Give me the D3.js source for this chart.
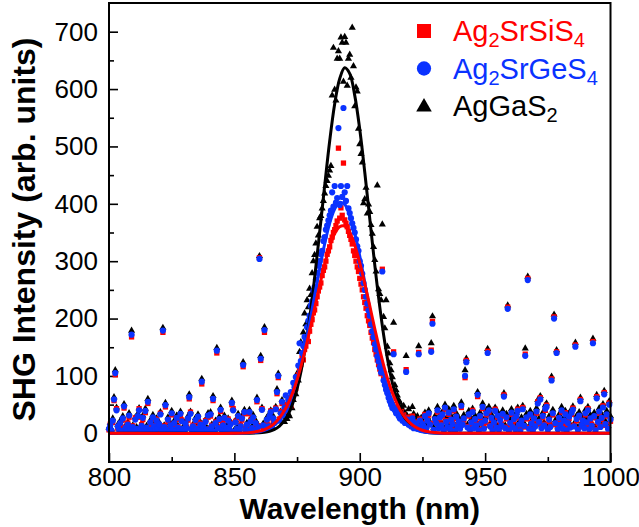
<!DOCTYPE html>
<html>
<head>
<meta charset="utf-8">
<script src="https://cdn.jsdelivr.net/npm/d3@7"></script>
<style>
  body { margin: 0; background: #fff; }
  text { font-family: "Liberation Sans", Arial, Helvetica, sans-serif; }
</style>
</head>
<body>
<script>
// Data (wavelength in nm, SHG intensity in arb. units)

var wavelength = [
  800, 800.5, 801, 801.5, 802, 802.5, 803, 803.5, 804, 804.5, 805, 805.5, 806, 806.5, 807, 807.5, 808, 808.5, 809, 809.5,
  810, 810.5, 811, 811.5, 812, 812.5, 813, 813.5, 814, 814.5, 815, 815.5, 816, 816.5, 817, 817.5, 818, 818.5, 819, 819.5,
  820, 820.5, 821, 821.5, 822, 822.5, 823, 823.5, 824, 824.5, 825, 825.5, 826, 826.5, 827, 827.5, 828, 828.5, 829, 829.5,
  830, 830.5, 831, 831.5, 832, 832.5, 833, 833.5, 834, 834.5, 835, 835.5, 836, 836.5, 837, 837.5, 838, 838.5, 839, 839.5,
  840, 840.5, 841, 841.5, 842, 842.5, 843, 843.5, 844, 844.5, 845, 845.5, 846, 846.5, 847, 847.5, 848, 848.5, 849, 849.5,
  850, 850.5, 851, 851.5, 852, 852.5, 853, 853.5, 854, 854.5, 855, 855.5, 856, 856.5, 857, 857.5, 858, 858.5, 859, 859.5,
  860, 860.5, 861, 861.5, 862, 862.5, 863, 863.5, 864, 864.5, 865, 865.5, 866, 866.5, 867, 867.5, 868, 868.5, 869, 869.5,
  870, 870.5, 871, 871.5, 872, 872.5, 873, 873.5, 874, 874.5, 875, 875.5, 876, 876.5, 877, 877.5, 878, 878.5, 879, 879.5,
  880, 880.5, 881, 881.5, 882, 882.5, 883, 883.5, 884, 884.5, 885, 885.5, 886, 886.5, 887, 887.5, 888, 888.5, 889, 889.5,
  890, 890.5, 891, 891.5, 892, 892.5, 893, 893.5, 894, 894.5, 895, 895.5, 896, 896.5, 897, 897.5, 898, 898.5, 899, 899.5,
  900, 900.5, 901, 901.5, 902, 902.5, 903, 903.5, 904, 904.5, 905, 905.5, 906, 906.5, 907, 907.5, 908, 908.5, 909, 909.5,
  910, 910.5, 911, 911.5, 912, 912.5, 913, 913.5, 914, 914.5, 915, 915.5, 916, 916.5, 917, 917.5, 918, 918.5, 919, 919.5,
  920, 920.5, 921, 921.5, 922, 922.5, 923, 923.5, 924, 924.5, 925, 925.5, 926, 926.5, 927, 927.5, 928, 928.5, 929, 929.5,
  930, 930.5, 931, 931.5, 932, 932.5, 933, 933.5, 934, 934.5, 935, 935.5, 936, 936.5, 937, 937.5, 938, 938.5, 939, 939.5,
  940, 940.5, 941, 941.5, 942, 942.5, 943, 943.5, 944, 944.5, 945, 945.5, 946, 946.5, 947, 947.5, 948, 948.5, 949, 949.5,
  950, 950.5, 951, 951.5, 952, 952.5, 953, 953.5, 954, 954.5, 955, 955.5, 956, 956.5, 957, 957.5, 958, 958.5, 959, 959.5,
  960, 960.5, 961, 961.5, 962, 962.5, 963, 963.5, 964, 964.5, 965, 965.5, 966, 966.5, 967, 967.5, 968, 968.5, 969, 969.5,
  970, 970.5, 971, 971.5, 972, 972.5, 973, 973.5, 974, 974.5, 975, 975.5, 976, 976.5, 977, 977.5, 978, 978.5, 979, 979.5,
  980, 980.5, 981, 981.5, 982, 982.5, 983, 983.5, 984, 984.5, 985, 985.5, 986, 986.5, 987, 987.5, 988, 988.5, 989, 989.5,
  990, 990.5, 991, 991.5, 992, 992.5, 993, 993.5, 994, 994.5, 995, 995.5, 996, 996.5, 997, 997.5, 998, 998.5, 999, 999.5,
  1000
];

// Ag2SrSiS4 (red squares)
var ag2SrSiS4 = [
  6, 16, 3, 19, 57, 102, 43, 9, 8, 15,
  6, 23, 44, 11, 2, 18, 28, 9, 168, 13,
  3, 27, 6, 28, 43, 4, 15, 24, 6, 36,
  8, 52, 5, 17, 9, 25, 14, 3, 25, 7,
  13, 35, 2, 176, 13, 46, 8, 21, 5, 12,
  32, 9, 16, 6, 24, 12, 3, 31, 23, 6,
  5, 14, 11, 23, 60, 37, 4, 14, 2, 20,
  10, 26, 3, 17, 86, 13, 2, 22, 5, 28,
  8, 30, 14, 57, 2, 20, 140, 11, 22, 38,
  3, 16, 24, 6, 8, 25, 5, 18, 50, 43,
  2, 21, 6, 27, 7, 14, 23, 116, 34, 8,
  13, 6, 34, 23, 7, 25, 7, 16, 55, 13,
  306, 127, 43, 12, 176, 10, 21, 14, 27, 39,
  12, 23, 20, 44, 69, 97, 25, 38, 52, 34,
  38, 50, 44, 62, 55, 48, 70, 66, 84, 78,
  96, 102, 112, 120, 132, 128, 146, 152, 165, 160,
  178, 190, 198, 210, 215, 226, 238, 248, 255, 262,
  275, 284, 290, 300, 312, 318, 325, 336, 342, 350,
  355, 362, 370, 497, 375, 393, 380, 471, 372, 366,
  360, 352, 345, 338, 330, 318, 310, 300, 290, 282,
  270, 260, 250, 238, 228, 218, 205, 196, 188, 176,
  166, 158, 146, 138, 128, 120, 112, 104, 286, 95,
  88, 80, 74, 68, 60, 55, 50, 142, 45, 40,
  46, 35, 30, 38, 26, 32, 22, 111, 28, 18,
  24, 15, 30, 12, 20, 16, 10, 141, 25, 12,
  18,
  10, 33, 6, 25, 32, 17, 145, 195, 4, 22,
  20, 37, 11, 25, 16, 30, 7, 42, 22, 9,
  33, 9, 21, 18, 39, 6, 26, 14, 18, 10,
  45, 17, 23, 97, 127, 12, 30, 8, 16, 40,
  11, 22, 16, 64, 7, 27, 20, 43, 10, 19,
  32, 143, 37, 14, 24, 6, 16, 42, 8, 28,
  8, 20, 16, 31, 67, 11, 25, 220, 7, 15,
  33, 13, 22, 9, 27, 42, 12, 6, 19, 45,
  11, 138, 25, 270, 10, 30, 19, 7, 23, 14,
  35, 55, 17, 62, 11, 27, 16, 40, 49, 8,
  21, 13, 95, 32, 203, 15, 142, 9, 24, 17,
  37, 10, 19, 36, 7, 15, 26, 12, 33, 44,
  14, 154, 22, 8, 28, 59, 12, 19, 11, 32,
  16, 43, 9, 23, 15, 160, 27, 7, 64, 17,
  35, 13, 24, 48, 71, 14, 30, 10, 53, 21
];

// Ag2SrGeS4 (blue circles)
var ag2SrGeS4 = [
  8, 14, 5, 22, 59, 105, 40, 12, 6, 18,
  4, 26, 47, 9, 3, 15, 31, 7, 172, 11,
  5, 24, 8, 30, 40, 6, 13, 27, 4, 39,
  10, 55, 3, 19, 7, 28, 12, 5, 22, 9,
  16, 33, 4, 179, 11, 49, 6, 24, 3, 14,
  35, 7, 18, 4, 27, 10, 5, 34, 21, 8,
  3, 17, 9, 26, 63, 34, 6, 12, 4, 23,
  8, 29, 5, 15, 90, 11, 4, 20, 7, 31,
  6, 33, 12, 60, 3, 18, 144, 9, 25, 41,
  5, 14, 27, 4, 10, 22, 7, 16, 53, 40,
  3, 19, 8, 30, 5, 12, 26, 119, 37, 6,
  15, 4, 37, 21, 9, 28, 5, 18, 58, 11,
  304, 130, 41, 14, 180, 8, 24, 12, 30, 37,
  10, 26, 18, 42, 72, 100, 22, 35, 55, 31,
  45, 66, 40, 58, 52, 72, 64, 88, 80, 98,
  92, 118, 157, 126, 140, 152, 168, 160, 185, 196,
  205, 222, 230, 248, 255, 268, 280, 292, 300, 312,
  318, 335, 342, 355, 362, 371, 380, 388, 420, 395,
  431, 402, 410, 532, 398, 431, 412, 567, 420, 405,
  431, 392, 384, 375, 366, 358, 350, 338, 326, 318,
  300, 292, 278, 262, 250, 238, 226, 214, 205, 190,
  178, 168, 155, 146, 134, 125, 115, 106, 282, 92,
  84, 76, 70, 62, 56, 50, 44, 138, 40, 35,
  42, 30, 26, 34, 22, 28, 18, 107, 24, 15,
  20, 12, 26, 9, 18, 14, 8, 138, 22, 10,
  16,
  12, 30, 8, 22, 35, 15, 142, 191, 6, 25,
  18, 40, 9, 28, 14, 33, 5, 45, 20, 11,
  36, 7, 24, 16, 42, 4, 29, 12, 21, 8,
  48, 15, 26, 100, 124, 10, 33, 6, 19, 37,
  9, 25, 14, 67, 5, 30, 18, 46, 8, 22,
  35, 140, 40, 12, 27, 4, 19, 39, 10, 31,
  6, 23, 14, 34, 64, 9, 28, 217, 5, 18,
  36, 11, 25, 7, 30, 39, 15, 4, 22, 42,
  13, 135, 28, 267, 8, 33, 17, 5, 26, 12,
  38, 52, 20, 59, 9, 30, 14, 43, 46, 6,
  24, 11, 92, 35, 200, 18, 140, 7, 27, 15,
  40, 8, 22, 33, 5, 18, 29, 10, 36, 41,
  12, 151, 25, 6, 31, 56, 14, 22, 9, 35,
  19, 40, 7, 26, 13, 157, 30, 5, 61, 20,
  38, 11, 27, 45, 68, 16, 33, 8, 50, 24
];

// AgGaS2 (black triangles)
var agGaS2 = [
  10, 18, 7, 26, 63, 110, 45, 15, 9, 22,
  7, 30, 51, 12, 5, 19, 35, 10, 179, 14,
  8, 28, 11, 34, 44, 9, 16, 31, 7, 43,
  13, 60, 6, 23, 10, 32, 15, 8, 26, 12,
  19, 37, 7, 184, 14, 53, 9, 28, 6, 18,
  39, 10, 22, 7, 31, 13, 8, 38, 25, 11,
  6, 21, 12, 30, 68, 38, 9, 15, 7, 27,
  11, 33, 8, 19, 95, 14, 7, 24, 10, 35,
  9, 37, 15, 65, 6, 22, 149, 12, 29, 45,
  8, 18, 31, 7, 13, 26, 10, 20, 57, 44,
  6, 23, 11, 34, 8, 15, 30, 124, 41, 9,
  18, 7, 41, 25, 12, 32, 8, 22, 62, 14,
  309, 135, 45, 17, 185, 11, 28, 15, 34, 40,
  13, 30, 22, 46, 77, 104, 25, 38, 58, 34,
  20, 28, 25, 34, 30, 46, 44, 58, 75, 68,
  104, 92, 142, 159, 128, 176, 209, 190, 232, 220,
  252, 241, 279, 300, 311, 331, 360, 345, 375, 379,
  392, 405, 418, 431, 440, 449, 458, 466, 589, 672,
  599, 580, 653, 666, 653, 690, 681, 613, 691, 681,
  606, 653, 660, 620, 707, 640, 570, 603, 596, 531,
  504, 487, 472, 401, 408, 428, 383, 399, 386, 363,
  348, 325, 302, 282, 432, 251, 243, 232, 364, 203,
  183, 232, 151, 139, 122, 110, 98, 193, 84, 75,
  66, 58, 54, 46, 40, 48, 36, 135, 30, 42,
  28, 22, 46, 34, 25, 18, 30, 152, 20, 27,
  20,
  16, 36, 12, 28, 40, 20, 157, 204, 10, 30,
  24, 46, 14, 33, 19, 38, 10, 50, 26, 15,
  42, 12, 30, 21, 48, 9, 35, 17, 27, 13,
  54, 20, 32, 110, 130, 15, 39, 11, 25, 43,
  14, 31, 19, 72, 10, 36, 23, 52, 13, 28,
  41, 147, 46, 17, 33, 9, 25, 45, 15, 37,
  11, 29, 19, 40, 70, 14, 34, 223, 10, 24,
  42, 16, 31, 12, 36, 45, 20, 9, 28, 48,
  18, 148, 34, 273, 13, 39, 22, 10, 32, 17,
  44, 58, 26, 65, 14, 36, 19, 49, 52, 11,
  30, 16, 99, 41, 207, 23, 145, 12, 33, 20,
  46, 13, 28, 39, 10, 24, 35, 15, 42, 47,
  17, 158, 31, 11, 37, 62, 19, 28, 14, 41,
  25, 46, 12, 32, 18, 165, 36, 10, 67, 26,
  44, 16, 33, 51, 74, 21, 39, 13, 56, 30
];

// Fitted curves, sampled from the figure
var fitWavelength = [800, 850, 856, 860, 862, 864, 866, 868, 870, 872, 874, 876, 878, 880, 882, 884, 886, 888, 890, 892,
  894, 896, 898, 900, 902, 904, 906, 908, 910, 912, 914, 916, 918, 920, 922, 924, 926, 928, 932, 936, 1000];
var fitSrSiS4 = [0, 0.2, 1.2, 3.9, 6.6, 10.9, 17.5, 26.8, 40, 57.5, 80, 108, 141, 178, 218, 257, 294, 325, 348, 360,
  361, 350, 328, 297, 261, 222, 182, 145, 111, 83, 60, 41.5, 28, 18.2, 11.5, 7, 4.1, 2.4, 0.7, 0.2, 0];
var fitSrGeS4 = [0, 0.1, 0.8, 2.8, 5, 8.8, 14.7, 23.7, 37, 55.6, 80, 112, 149.5, 193, 240, 286.5, 330, 366, 391, 402.5,
  399, 380, 349, 309, 263, 216, 170.5, 130, 95, 67, 45.5, 29.8, 18.8, 11.4, 6.7, 3.7, 2, 1.1, 0.3, 0.1, 0];
var fitGaS2 = [0, 0, 0.2, 0.8, 1.7, 3.5, 6.9, 12.7, 22.5, 38, 62, 96, 142, 200, 271, 350, 431, 509, 574, 618,
  637, 627, 589, 530, 455, 374, 293, 220, 158, 108, 71, 44, 26.5, 15, 8.3, 4.3, 2.2, 1, 0.2, 0, 0];

var xTicks = [800, 850, 900, 950, 1000];
var xMinorTicks = [825, 875, 925, 975];
var yTicks = [0, 100, 200, 300, 400, 500, 600, 700];
var yMinorTicks = [50, 150, 250, 350, 450, 550, 650];

var legendLabels = [
  ["Ag", "2", "SrSiS", "4"],
  ["Ag", "2", "SrGeS", "4"],
  ["AgGaS", "2"]
];

// Declare the svg field

var svgWidth = 639;
var svgHeight = 527;
var margin = { top: 3, right: 28.5, bottom: 65, left: 109 };

var width = svgWidth - margin.left - margin.right;
var height = svgHeight - margin.top - margin.bottom;

var svg = d3.select("body")
  .append("svg")
  .attr("width", svgWidth)
  .attr("height", svgHeight);

var chartGroup = svg.append("g")
  .attr("transform", `translate(${margin.left}, ${margin.top})`);

var xScale = d3.scaleLinear().domain([800, 1000]).range([0, width]);
var yScale = d3.scaleLinear().domain([-50, 750]).range([height, 0]);

var red = "#ff0000";
var blue = "#0a32ff";

// series in drawing order (black at the back, blue on top)
var series = [
  { values: agGaS2, fit: fitGaS2, color: "#000000", symbol: d3.symbolTriangle, size: 22, legendSize: 105 },
  { values: ag2SrSiS4, fit: fitSrSiS4, color: red, symbol: d3.symbolSquare, size: 28, legendSize: 196 },
  { values: ag2SrGeS4, fit: fitSrGeS4, color: blue, symbol: d3.symbolCircle, size: 30, legendSize: 160 }
];

// axes: ticks point inward
var xAxis = d3.axisBottom(xScale).tickValues(xTicks).tickSize(-9).tickPadding(6).tickFormat(d3.format("d"));
var xMinor = d3.axisBottom(xScale).tickValues(xMinorTicks).tickSize(-5).tickFormat("");
var yAxis = d3.axisLeft(yScale).tickValues(yTicks).tickSize(-9).tickPadding(11).tickFormat(d3.format("d"));
var yMinor = d3.axisLeft(yScale).tickValues(yMinorTicks).tickSize(-5).tickFormat("");

chartGroup.append("g").attr("class", "x-axis").attr("transform", `translate(0,${height})`).call(xAxis);
chartGroup.append("g").attr("class", "x-axis").attr("transform", `translate(0,${height})`).call(xMinor);
chartGroup.append("g").attr("class", "y-axis").call(yAxis);
chartGroup.append("g").attr("class", "y-axis").call(yMinor);

chartGroup.selectAll(".domain").remove();
chartGroup.selectAll(".tick line").attr("stroke", "#000").attr("stroke-width", 1.6);
chartGroup.selectAll(".tick text")
  .attr("fill", "#000")
  .attr("font-size", "26px")
  .attr("font-family", "'Liberation Sans', Arial, Helvetica, sans-serif");

// scatter points
series.forEach(function (s) {
  var points = wavelength.map(function (w, i) { return { x: w, y: s.values[i] }; });
  chartGroup.append("g")
    .selectAll("path")
    .data(points)
    .enter()
    .append("path")
    .attr("d", d3.symbol().type(s.symbol).size(s.size))
    .attr("transform", function (d) { return `translate(${xScale(d.x)},${yScale(d.y)})`; })
    .attr("fill", s.color);
});

// fitted curves (black, blue, red on top)
var line = d3.line()
  .x(function (d) { return xScale(d.x); })
  .y(function (d) { return yScale(d.y); })
  .curve(d3.curveCatmullRom.alpha(0.5));

[series[0], series[2], series[1]].forEach(function (s) {
  var pts = fitWavelength.map(function (w, i) { return { x: w, y: s.fit[i] }; });
  chartGroup.append("path")
    .datum(pts)
    .attr("d", line)
    .attr("fill", "none")
    .attr("stroke", s.color)
    .attr("stroke-width", 3);
});

// frame
chartGroup.append("rect")
  .attr("x", 0)
  .attr("y", 0)
  .attr("width", width)
  .attr("height", height)
  .attr("fill", "none")
  .attr("stroke", "#000")
  .attr("stroke-width", 2);

// axis titles
chartGroup.append("text")
  .attr("x", width / 2)
  .attr("y", height + 57)
  .attr("text-anchor", "middle")
  .attr("font-size", "30px")
  .attr("font-weight", "bold")
  .text("Wavelength (nm)");

chartGroup.append("text")
  .attr("transform", `translate(-74,${height / 2 - 3})rotate(-90)`)
  .attr("text-anchor", "middle")
  .attr("font-size", "32px")
  .attr("font-weight", "bold")
  .text("SHG Intensity (arb. units)");

// legend
var legendOrder = [series[1], series[2], series[0]];
var legend = svg.append("g").attr("transform", "translate(424, 31)");

legendOrder.forEach(function (s, i) {
  var row = legend.append("g").attr("transform", `translate(0,${i * 37.5})`);
  row.append("path")
    .attr("d", d3.symbol().type(s.symbol).size(s.legendSize))
    .attr("transform", i === 2 ? "translate(0,1)" : null)
    .attr("fill", s.color);
  var label = row.append("text")
    .attr("x", 29)
    .attr("y", 10)
    .attr("font-size", "29px")
    .attr("fill", s.color);
  legendLabels[i].forEach(function (part, j) {
    var isSub = j % 2 === 1;
    label.append("tspan")
      .attr("font-size", isSub ? "20px" : "29px")
      .attr("dy", j === 0 ? 0 : (isSub ? 6 : -6))
      .text(part);
  });
});
</script>
</body>
</html>
